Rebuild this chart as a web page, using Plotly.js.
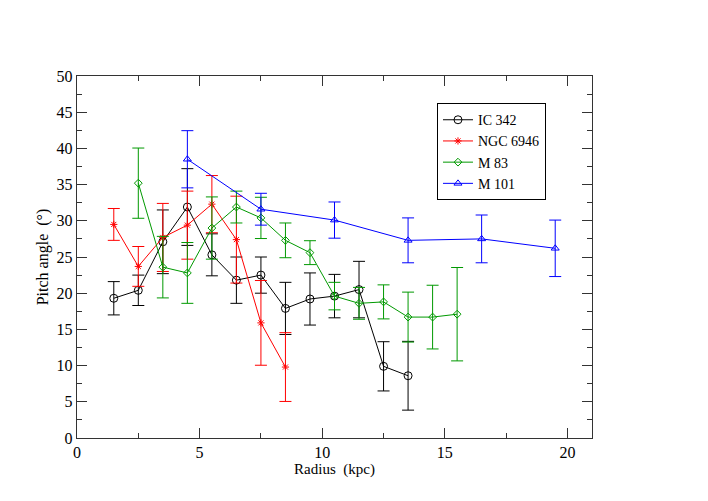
<!DOCTYPE html>
<html>
<head>
<meta charset="utf-8">
<script src="https://cdn.plot.ly/plotly-3.0.1.min.js"></script>
<style>
  html, body { margin: 0; padding: 0; background: #fff; }
  #chart { width: 708px; height: 501px; }
</style>
</head>
<body>
<div id="chart"></div>
<script>
// radius (kpc), pitch angle (deg) and error for each galaxy
const ic342R = [1.5, 2.5, 3.5, 4.5, 5.5, 6.5, 7.5, 8.5, 9.5, 10.5, 11.5, 12.5, 13.5];
const ic342P = [19.3, 20.4, 27.1, 31.9, 25.3, 21.8, 22.5, 17.9, 19.2, 19.6, 20.5, 9.9, 8.6];
const ic342E = [2.3, 2.1, 4.4, 5.3, 2.9, 3.2, 2.5, 3.6, 3.6, 3.0, 3.9, 3.4, 4.75];

const ngc6946R = [1.5, 2.5, 3.5, 4.5, 5.5, 6.5, 7.5, 8.5];
const ngc6946P = [29.5, 23.7, 27.7, 29.4, 32.3, 27.4, 15.9, 9.8];
const ngc6946E = [2.2, 2.75, 4.7, 4.7, 3.95, 6.0, 5.85, 4.75];

const m83R = [2.5, 3.5, 4.5, 5.5, 6.5, 7.5, 8.5, 9.5, 10.5, 11.5, 12.5, 13.5, 14.5, 15.5];
const m83P = [35.2, 23.6, 22.8, 29.0, 31.9, 30.4, 27.3, 25.6, 19.6, 18.6, 18.8, 16.7, 16.7, 17.1];
const m83E = [4.85, 4.25, 4.2, 4.3, 2.2, 2.85, 2.4, 1.65, 1.9, 2.2, 2.35, 3.45, 4.4, 6.45];

const m101R = [4.5, 7.5, 10.5, 13.5, 16.5, 19.5];
const m101P = [38.5, 31.6, 30.1, 27.3, 27.5, 26.2];
const m101E = [3.95, 2.2, 2.5, 3.1, 3.3, 3.9];

const serif = 'Liberation Serif, Times New Roman, serif';

function series(name, x, y, err, color, symbol, size) {
    return {
        name: name,
        x: x,
        y: y,
        type: 'scatter',
        mode: 'lines+markers',
        line: { color: color, width: 1 },
        marker: { symbol: symbol, size: size, color: color, line: { color: color, width: 1 } },
        error_y: { type: 'data', array: err, visible: true, color: color, thickness: 1, width: 6 }
    };
}

const data = [
    series('IC 342', ic342R, ic342P, ic342E, '#000000', 'circle-open', 8),
    series('NGC 6946', ngc6946R, ngc6946P, ngc6946E, '#ff0000', 'asterisk-open', 6),
    series('M 83', m83R, m83P, m83E, '#009900', 'diamond-open', 6),
    series('M 101', m101R, m101P, m101E, '#0000ff', 'triangle-up-open', 7)
];

const axisCommon = {
    showgrid: false,
    zeroline: false,
    showline: true,
    linecolor: '#333',
    linewidth: 1.2,
    mirror: 'allticks',
    ticks: 'inside',
    ticklen: 10,
    tickwidth: 1,
    tickcolor: '#333',
    tickfont: { family: serif, size: 16, color: '#000' },
    minor: { ticks: 'inside', ticklen: 5, tickwidth: 1, tickcolor: '#333', showgrid: false }
};

const layout = {
    width: 708,
    height: 501,
    margin: { l: 77, r: 116, t: 76, b: 63 },
    paper_bgcolor: '#fff',
    plot_bgcolor: '#fff',
    font: { family: serif, color: '#000' },
    showlegend: true,
    xaxis: Object.assign({}, axisCommon, {
        range: [0, 21],
        tickvals: [0, 5, 10, 15, 20],
        minor: Object.assign({}, axisCommon.minor, { tickvals: [2.5, 7.5, 12.5, 17.5] }),
        title: { text: 'Radius\u00a0\u00a0(kpc)', font: { family: serif, size: 15, color: '#000' }, standoff: 0 }
    }),
    yaxis: Object.assign({}, axisCommon, {
        range: [0, 50],
        tickvals: [0, 5, 10, 15, 20, 25, 30, 35, 40, 45, 50],
        minor: Object.assign({}, axisCommon.minor, { tickvals: [2.5, 7.5, 12.5, 17.5, 22.5, 27.5, 32.5, 37.5, 42.5, 47.5] }),
        title: { text: 'Pitch angle\u00a0\u00a0(\u00b0)', font: { family: serif, size: 16, color: '#000' }, standoff: 4 }
    }),
    legend: {
        x: 0.699,
        y: 0.925,
        xanchor: 'left',
        yanchor: 'top',
        bgcolor: '#fff',
        bordercolor: '#000',
        borderwidth: 1,
        font: { family: serif, size: 14, color: '#000' },
        tracegroupgap: 0
    }
};

// wait for fonts so the legend box is measured with the serif face
const ready = document.fonts ? document.fonts.ready : Promise.resolve();
ready.then(function () {
    Plotly.newPlot('chart', data, layout, { displayModeBar: false, staticPlot: true });
});
</script>
</body>
</html>
